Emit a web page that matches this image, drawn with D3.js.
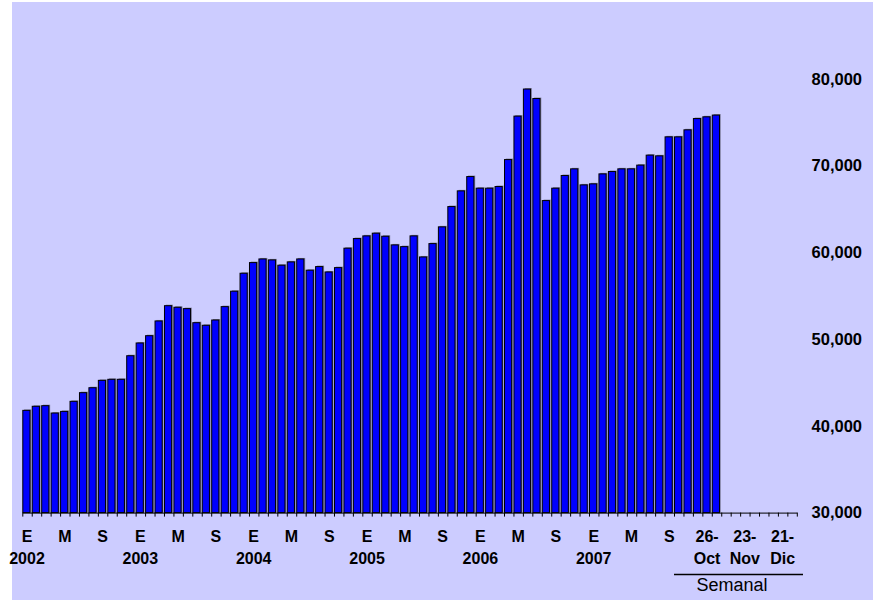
<!DOCTYPE html>
<html>
<head>
<meta charset="utf-8">
<script src="https://cdn.jsdelivr.net/npm/d3@7"></script>
<style>
  body { margin: 0; background: #fff; }
  text { font-family: "Liberation Sans", Arial, sans-serif; }
</style>
</head>
<body>
<div id="chart"></div>
<script>
const width = 873,
    height = 600;

// monthly values, Jan 2002 - Sep 2007
const years = [2002, 2003, 2004, 2005, 2006, 2007];
const monthLetters = ["E", "F", "M", "A", "M", "J", "J", "A", "S", "O", "N", "D"];
const monthlyValues = [
    41790, 42260, 42330, 41480, 41670, 42830, 43830, 44400, 45250, 45370, 45370, 48090,
    49560, 50400, 52100, 53860, 53680, 53520, 51900, 51600, 52210, 53750, 55530, 57600,
    58830, 59250, 59140, 58530, 58910, 59250, 57950, 58370, 57750, 58250, 60490, 61600,
    61910, 62220, 61870, 60870, 60670, 61910, 59480, 61020, 62950, 65290, 67100, 68750,
    67410, 67410, 67600, 70710, 75720, 78840, 77750, 65980, 67410, 68870, 69640, 67790,
    67910, 69060, 69330, 69640, 69640, 70070, 71220, 71140, 73330
];
// weekly values (Semanal)
const weekLabels = ["5-Oct", "12-Oct", "19-Oct", "26-Oct", "2-Nov", "9-Nov", "16-Nov",
    "23-Nov", "30-Nov", "7-Dic", "14-Dic", "21-Dic", "28-Dic"];
const weeklyValues = [73330, 74140, 75440, 75640, 75840];
const shownWeeks = ["26-Oct", "23-Nov", "21-Dic"];
const yTicks = [30000, 40000, 50000, 60000, 70000, 80000];

// build slots
const monthSlots = monthlyValues.map((v, i) => ({
    key: "m" + i,
    value: v,
    month: i % 12,
    year: years[Math.floor(i / 12)]
}));
const weekSlots = weekLabels.map((w, i) => ({
    key: "w" + i,
    value: i < weeklyValues.length ? weeklyValues[i] : null,
    week: w
}));
const slots = monthSlots.concat(weekSlots);

const svg = d3.select("#chart")
    .append("svg")
    .attr("width", width)
    .attr("height", height);

// background panel
svg.append("rect")
    .attr("x", 12).attr("y", 2)
    .attr("width", width - 12).attr("height", height - 2)
    .attr("fill", "#ccccff");

const x = d3.scaleBand()
    .domain(slots.map(d => d.key))
    .range([22.3, 796.8])
    .padding(0);

const xEdges = d3.scaleLinear()
    .domain([0, slots.length])
    .range([22.3, 796.8]);

const y = d3.scaleLinear()
    .domain([30000, 80000])
    .range([512.6, 79]);

const barW = x.bandwidth() * 0.76;
const bars = slots.filter(d => d.value !== null);

// shadows
svg.selectAll(".shadow")
    .data(bars)
    .enter().append("rect")
    .attr("class", "shadow")
    .attr("x", d => x(d.key) + 1.8)
    .attr("y", d => y(d.value) - 1)
    .attr("width", barW)
    .attr("height", d => y(30000) - y(d.value) + 1)
    .attr("fill", "#8080a0");

svg.selectAll(".bar")
    .data(bars)
    .enter().append("rect")
    .attr("class", "bar")
    .attr("x", d => x(d.key) + 0.5)
    .attr("y", d => y(d.value))
    .attr("width", barW)
    .attr("height", d => y(30000) - y(d.value))
    .attr("fill", "#0000ff")
    .attr("stroke", "#000")
    .attr("stroke-width", 1);

// x axis with ticks at slot edges
const xAxis = svg.append("g")
    .attr("transform", `translate(0,${y(30000)})`)
    .call(d3.axisBottom(xEdges)
        .tickValues(d3.range(slots.length + 1))
        .tickFormat("")
        .tickSize(4)
        .tickSizeOuter(0));
xAxis.select(".domain").attr("stroke", "#000");
xAxis.selectAll(".tick line").attr("stroke", "#000");

// month letters and years
const labelled = monthSlots.filter(d => d.month % 4 === 0);
svg.selectAll(".mlabel")
    .data(labelled)
    .enter().append("text")
    .attr("class", "mlabel")
    .attr("x", d => x(d.key) + x.bandwidth() / 2)
    .attr("y", 541.5)
    .attr("text-anchor", "middle")
    .style("font-size", "16px")
    .style("font-weight", "bold")
    .text(d => monthLetters[d.month]);

svg.selectAll(".ylabel")
    .data(monthSlots.filter(d => d.month === 0))
    .enter().append("text")
    .attr("class", "ylabel")
    .attr("x", d => x(d.key) + x.bandwidth() / 2)
    .attr("y", 564)
    .attr("text-anchor", "middle")
    .style("font-size", "16px")
    .style("font-weight", "bold")
    .text(d => d.year);

// weekly labels
const wl = svg.selectAll(".wlabel")
    .data(weekSlots.filter(d => shownWeeks.includes(d.week)))
    .enter().append("text")
    .attr("class", "wlabel")
    .attr("text-anchor", "middle")
    .style("font-size", "16px")
    .style("font-weight", "bold");
wl.append("tspan")
    .attr("x", d => x(d.key) + x.bandwidth() / 2)
    .attr("y", 541.5)
    .text(d => d.week.split("-")[0] + "-");
wl.append("tspan")
    .attr("x", d => x(d.key) + x.bandwidth() / 2)
    .attr("y", 564)
    .text(d => d.week.split("-")[1]);

// Semanal bracket
svg.append("line")
    .attr("x1", x(weekSlots[0].key))
    .attr("x2", 803)
    .attr("y1", 574.5).attr("y2", 574.5)
    .attr("stroke", "#000")
    .attr("stroke-width", 1.5);
svg.append("text")
    .attr("x", 732)
    .attr("y", 591)
    .attr("text-anchor", "middle")
    .style("font-size", "18px")
    .text("Semanal");

// right axis labels
svg.selectAll(".ytick")
    .data(yTicks)
    .enter().append("text")
    .attr("class", "ytick")
    .attr("x", 862)
    .attr("y", d => y(d))
    .attr("dy", "0.35em")
    .attr("text-anchor", "end")
    .style("font-size", "16.5px")
    .style("font-weight", "bold")
    .text(d => d3.format(",")(d));
</script>
</body>
</html>
